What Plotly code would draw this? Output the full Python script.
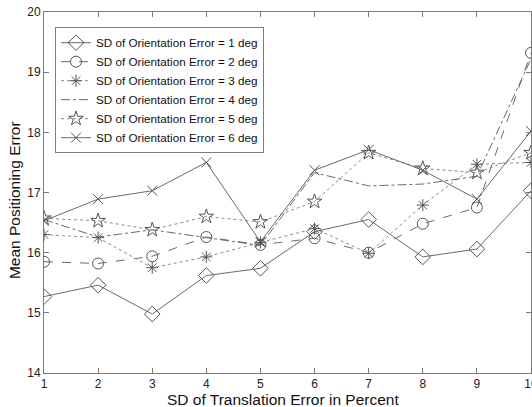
import plotly.graph_objects as go

x = [1, 2, 3, 4, 5, 6, 7, 8, 9, 10]
sd1 = [15.27, 15.46, 14.98, 15.62, 15.74, 16.35, 16.55, 15.93, 16.06, 17.03]
sd2 = [15.85, 15.82, 15.94, 16.26, 16.13, 16.24, 16.00, 16.48, 16.75, 19.32]
sd3 = [16.30, 16.25, 15.75, 15.93, 16.17, 16.40, 15.99, 16.79, 17.47, 17.50]
sd4 = [16.55, 16.26, 16.38, 16.25, 16.12, 17.33, 17.11, 17.14, 17.27, 19.22]
sd5 = [16.57, 16.53, 16.38, 16.60, 16.51, 16.85, 17.66, 17.40, 17.33, 17.66]
sd6 = [16.53, 16.89, 17.03, 17.50, 16.18, 17.37, 17.71, 17.37, 16.89, 18.02]
names = ["SD of Orientation Error = %d deg" % i for i in range(1, 7)]
x_title = "SD of Translation Error in Percent"
y_title = "Mean Positioning Error"

series = [sd1, sd2, sd3, sd4, sd5, sd6]
dashes = ["solid", "dash", "dot", "dashdot", "dot", "solid"]
symbols = ["diamond-open", "circle-open", "asterisk-open", None, "star-open", "x-thin-open"]
sizes = [12, 11, 10, 0, 11, 10]
line_colors = ["#6a6a6a", "#6a6a6a", "#8a8a8a", "#6a6a6a", "#8a8a8a", "#6a6a6a"]

fig = go.Figure()
for ys, nm, d, s, sz, lc in zip(series, names, dashes, symbols, sizes, line_colors):
    if s is None:
        fig.add_trace(go.Scatter(x=x, y=ys, name=nm, mode="lines",
                                 line=dict(color=lc, width=1, dash=d)))
    else:
        fig.add_trace(go.Scatter(x=x, y=ys, name=nm, mode="lines+markers",
                                 line=dict(color=lc, width=1, dash=d),
                                 marker=dict(symbol=s, size=sz, color="#555555",
                                             line=dict(width=1, color="#555555"))))

axis_common = dict(showline=True, linecolor="#7a7a7a", linewidth=1, mirror="ticks",
                   ticks="inside", ticklen=5, tickcolor="#7a7a7a", showgrid=False,
                   zeroline=False, automargin=False, ticklabeloverflow="allow",
                   tickfont=dict(family="Liberation Sans, Arial", size=12, color="#222"))

fig.update_layout(
    width=532, height=407,
    margin=dict(l=44, r=1, t=12, b=34),
    paper_bgcolor="white", plot_bgcolor="white",
    font=dict(family="Liberation Sans, Arial", color="#111"),
    xaxis=dict(range=[1, 10], tickvals=x, ticktext=[str(v) for v in x], **axis_common),
    yaxis=dict(range=[14, 20], tickvals=[14, 15, 16, 17, 18, 19, 20], **axis_common),
    legend=dict(x=0.0226, y=0.958, xanchor="left", yanchor="top",
                bgcolor="white", bordercolor="#7a7a7a", borderwidth=1,
                font=dict(size=11.7, color="#111"), tracegroupgap=0, itemwidth=30),
    showlegend=True,
    annotations=[
        dict(text=x_title, xref="paper", yref="paper", x=0.49, y=-0.073,
             xanchor="center", yanchor="middle", showarrow=False,
             font=dict(size=15.5, color="#111")),
        dict(text=y_title, xref="paper", yref="paper", x=-0.0616, y=0.479,
             xanchor="center", yanchor="middle", textangle=-90, showarrow=False,
             font=dict(size=15.5, color="#111")),
    ],
)

fig.write_html("out.html", config={"displayModeBar": False},
               post_script="document.body.style.margin='0';document.body.style.overflow='hidden';")
